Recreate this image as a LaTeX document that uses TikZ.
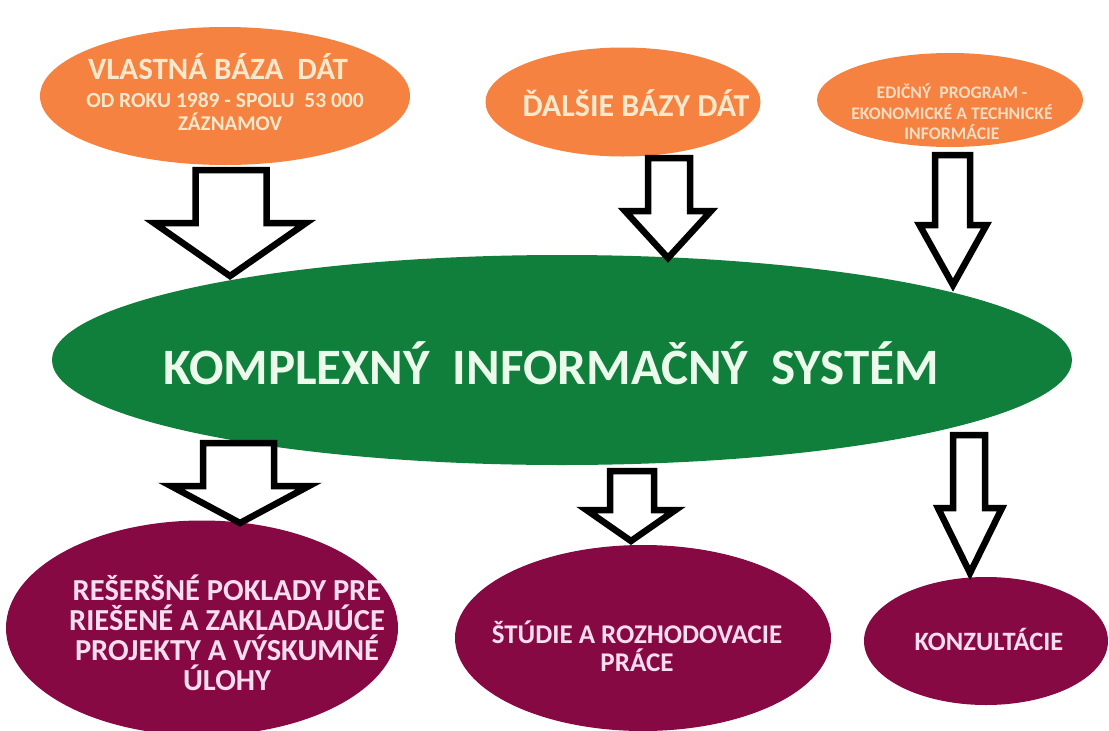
\documentclass[tikz,border=0pt]{standalone}
\usepackage{fontspec}
\setmainfont{Carlito}
\usetikzlibrary{shapes.geometric}
\definecolor{orng}{RGB}{245,130,64}
\definecolor{cream}{RGB}{250,232,205}
\definecolor{creamsoft}{RGB}{246,220,195}
\definecolor{grn}{RGB}{17,127,60}
\definecolor{grntxt}{RGB}{236,250,236}
\definecolor{mrn}{RGB}{134,9,68}
\definecolor{pinktxt}{RGB}{250,222,240}
\tikzset{
  blob/.style={ellipse, inner sep=0pt, draw=none},
  src/.style={blob, fill=orng},
  hub/.style={blob, fill=grn},
  outc/.style={blob, fill=mrn},
  lbl/.style={align=center, inner sep=0pt, font=\bfseries},
  blockarrow/.style={draw=black, fill=white, line width=6.5pt, line join=miter},
}
\newcommand{\bigarrow}[7]{%
  \draw[blockarrow] ({#1-#2},#3) -- ({#1+#2},#3) -- ({#1+#2},#4) -- ({#6+#5},#4)
    -- (#6,#7) -- ({#6-#5},#4) -- ({#1-#2},#4) -- cycle;}
\begin{document}
\begin{tikzpicture}[x=1pt,y=-1pt]
\useasboundingbox (0,0) rectangle (1109,731);
\fill[white] (0,0) rectangle (1109,731);
% source ellipses
\node[src, minimum width=370pt, minimum height=138pt] (s1) at (225,96) {};
\node[src, minimum width=275pt, minimum height=109pt] (s2) at (623,102) {};
\node[src, minimum width=266pt, minimum height=94pt] (s3) at (950,100) {};
% hub
\node[hub, minimum width=1020pt, minimum height=210pt] (hub) at (562,360) {};
% outputs
\node[outc, minimum width=392pt, minimum height=215pt] (o1) at (202,628) {};
\node[outc, minimum width=376pt, minimum height=186pt] (o2) at (643,638) {};
\node[outc, minimum width=244pt, minimum height=128pt] (o3) at (986,641) {};
% texts
\node[lbl, text=cream, font=\bfseries\fontsize{31}{33}\selectfont] (s1a) at (218,67) {VLASTNÁ BÁZA\ \ DÁT};
\node[lbl, text=cream, font=\bfseries\fontsize{21.5}{23}\selectfont] (s1b) at (225,100) {OD ROKU 1989 - SPOLU\ \ 53 000};
\node[lbl, text=cream, font=\bfseries\fontsize{21}{23}\selectfont] (s1c) at (230,122) {ZÁZNAMOV};
\node[lbl, text=cream, font=\bfseries\fontsize{32}{34}\selectfont] (s2t) at (636,103) {ĎALŠIE BÁZY DÁT};
\node[lbl, text=creamsoft, font=\bfseries\fontsize{17.7}{20.5}\selectfont] (s3t) at (952,112) {EDIČNÝ\ \ PROGRAM -\\EKONOMICKÉ A TECHNICKÉ\\INFORMÁCIE};
\node[lbl, text=grntxt, font=\bfseries\fontsize{51}{56}\selectfont] (hubt) at (551,363) {KOMPLEXNÝ\ \ INFORMAČNÝ\ \ SYSTÉM};
\node[lbl, text=pinktxt, font=\bfseries\fontsize{30.5}{30}\selectfont] (o1t) at (227,633) {REŠERŠNÉ POKLADY PRE\\RIEŠENÉ A ZAKLADAJÚCE\\PROJEKTY A VÝSKUMNÉ\\ÚLOHY};
\node[lbl, text=pinktxt, font=\bfseries\fontsize{27}{28}\selectfont] (o2t) at (637,646) {ŠTÚDIE A ROZHODOVACIE\\PRÁCE};
\node[lbl, text=pinktxt, font=\bfseries\fontsize{26.5}{28}\selectfont] (o3t) at (989,639) {KONZULTÁCIE};
% block arrows
\bigarrow{231}{35.5}{170}{223}{76}{230}{276}
\bigarrow{669}{21}{158}{211}{43}{668}{258}
\bigarrow{952.5}{17.5}{155}{225}{33.5}{953}{285}
\bigarrow{238.5}{35.5}{443}{486}{69}{240}{523}
\bigarrow{632}{22}{471}{510}{44.5}{631}{541}
\bigarrow{969}{16}{435}{508}{32}{970}{573}
\end{tikzpicture}
\end{document}
